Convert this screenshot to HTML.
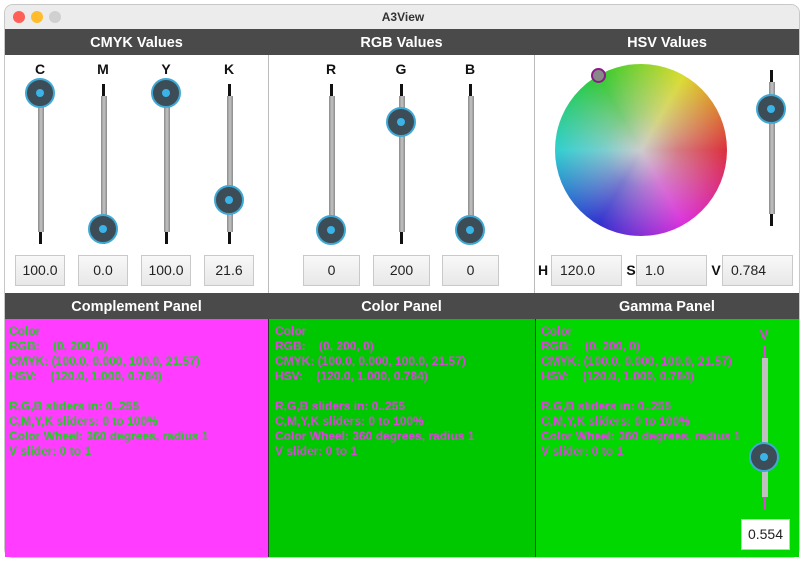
<!DOCTYPE html>
<html><head><meta charset="utf-8"><style>
*{box-sizing:border-box;margin:0;padding:0}
body{width:805px;height:562px;background:#fff;font-family:"Liberation Sans",sans-serif;position:relative;overflow:hidden}
.abs{position:absolute}
.win{left:4px;top:4px;width:796px;height:554px;border:1px solid #c8c8c8;border-radius:9px;overflow:hidden;background:#fff}
.tb{left:0;top:0;width:796px;height:25px;background:#ececec;border-bottom:1px solid #d0d0d0;text-align:center;font-size:12px;line-height:25px;color:#333;font-weight:bold}
.dot{width:12px;height:12px;border-radius:50%;top:6px}
.hdr{height:26px;background:#4a4a4a;color:#fff;font-weight:bold;font-size:14.5px;text-align:center;line-height:29px}
.lbl{font-weight:bold;font-size:14px;width:30px;text-align:center;color:#111}
.trk{width:6px;background:linear-gradient(90deg,#8a8a8a,#c4c4c4 50%,#8a8a8a)}
.tick{width:3px;height:12px;background:#111}
.th{width:30px;height:30px;border-radius:50%;background:#3c4d57;border:2px solid #3fa9d6}
.th::after{content:"";position:absolute;left:9px;top:9px;width:8px;height:8px;border-radius:50%;background:#3ab4e8}
.fld{height:31px;border:1px solid #c9c9c9;background:linear-gradient(#f8f8f8,#e8e8e8);font-size:14px;line-height:29px;color:#222;text-align:center}
.txt{font-weight:bold;font-size:12px;line-height:15px;white-space:pre}
</style></head><body>
<div class="abs win">
 <div class="abs tb">A3View</div>
 <div class="abs dot" style="left:8px;background:#fe5f57"></div>
 <div class="abs dot" style="left:26px;background:#febc2e"></div>
 <div class="abs dot" style="left:44px;background:#d0d0d0"></div>
</div>
<div id="root" class="abs" style="left:0;top:0;width:805px;height:562px"></div>
<script>
var root=document.getElementById('root');
function mk(cls,st,txt){var e=document.createElement('div');e.className='abs '+cls;e.style.cssText=st;if(txt!==undefined)e.textContent=txt;root.appendChild(e);return e;}
var h1=mk('hdr','left:5px;top:29px;width:263px','CMYK Values');


var h2=mk('hdr','left:268px;top:29px;width:267px','RGB Values');


var h3=mk('hdr','left:535px;top:29px;width:264px','HSV Values');


var sep1=mk('','left:268px;top:55px;width:1px;height:238px;background:#bbb');


var sep2=mk('','left:534px;top:55px;width:1px;height:238px;background:#bbb');


var h4=mk('hdr','left:5px;top:293px;width:263px','Complement Panel');


var h5=mk('hdr','left:268px;top:293px;width:267px','Color Panel');


var h6=mk('hdr','left:535px;top:293px;width:264px','Gamma Panel');



function slider(name,x,top,bot,ty,tcol,trcol){
 var t1=mk('tick','left:'+(x-1)+'px;top:'+(top-4)+'px;'+(tcol?'background:'+tcol:''));
 
 
 var t2=mk('tick','left:'+(x-1)+'px;top:'+(bot-8)+'px;'+(tcol?'background:'+tcol:''));
 
 
 var tr=mk('trk','left:'+(x-2.5)+'px;top:'+(top+8)+'px;height:'+(bot-top-16)+'px;'+(trcol?'background:'+trcol:''));
 
 
 var th=mk('th','left:'+(x-15)+'px;top:'+(ty-15)+'px');
 
 
}
function field(name,x,y,w,txt,align){
 var f=mk('fld','left:'+x+'px;top:'+y+'px;width:'+w+'px;'+(align?'text-align:left;padding-left:8px':''),txt);
 
 
}
function label(name,x,y,txt,col){
 var l=mk('lbl','left:'+(x-15)+'px;top:'+y+'px;'+(col?'color:'+col:''),txt);
 
 
}
var cm=[['c',40,93,'100.0'],['m',103,229,'0.0'],['y',166,93,'100.0'],['k',229,200,'21.6']];
cm.forEach(function(s){label(s[0]+'-label',s[1],61,s[0].toUpperCase());slider(s[0]+'-slider',s[1],88,240,s[2]);field(s[0]+'-field',s[1]-25,255,50,s[3]);});
var rg=[['r',331,230,'0'],['g',401,122,'200'],['b',470,230,'0']];
rg.forEach(function(s){label(s[0]+'-label',s[1],61,s[0].toUpperCase());slider(s[0]+'-slider',s[1],88,240,s[2]);field(s[0]+'-field',s[1]-28,255,57,s[3]);});
var wh=mk('','left:555px;top:64px;width:172px;height:172px;border-radius:50%;background:radial-gradient(circle,rgba(205,205,205,1) 0%,rgba(205,205,205,0.6) 30%,rgba(205,205,205,0.1) 85%,rgba(205,205,205,0) 100%),conic-gradient(from 90deg,#e00010,#e000e0,#0000d0,#00d0d0,#00c800,#e0e000,#e00010)');


var wm=mk('','left:591px;top:68px;width:15px;height:15px;border-radius:50%;background:#888;border:2px solid #8a1a8a');


slider('v-slider',771,74,222,109);
[['h',543,551,'120.0'],['s',631,636,'1.0'],['v',716,722,'0.784']].forEach(function(s){
 label(s[0]+'-label',s[1],262,s[0].toUpperCase());field(s[0]+'-field',s[2],255,71,s[3],1);});
var p1=mk('','left:5px;top:319px;width:263px;height:238px;background:#ff3cff');


var p2=mk('','left:268px;top:319px;width:267px;height:238px;background:#00c800;border-left:1px solid #333');


var p3=mk('','left:535px;top:319px;width:264px;height:238px;background:#00d800;border-left:1px solid #333');


var info='Color\nRGB:    (0, 200, 0)\nCMYK: (100.0, 0.000, 100.0, 21.57)\nHSV:    (120.0, 1.000, 0.784)\n\nR,G,B sliders in: 0..255\nC,M,Y,K sliders: 0 to 100%\nColor Wheel: 360 degrees, radius 1\nV slider: 0 to 1';
var t1=mk('txt','left:9px;top:324px;color:#22cc22',info);


var t2=mk('txt','left:275px;top:324px;color:#e040e0',info);


var t3=mk('txt','left:541px;top:324px;color:#e040e0',info);


label('gamma-v-label',764,326,'V','#e040e0');
slider('gamma-slider',764,350,505,457,'#e040e0','#c0c0c0');
var gf=mk('fld','left:741px;top:519px;width:49px;height:31px;background:#fff',"0.554");


</script>
</body></html>
